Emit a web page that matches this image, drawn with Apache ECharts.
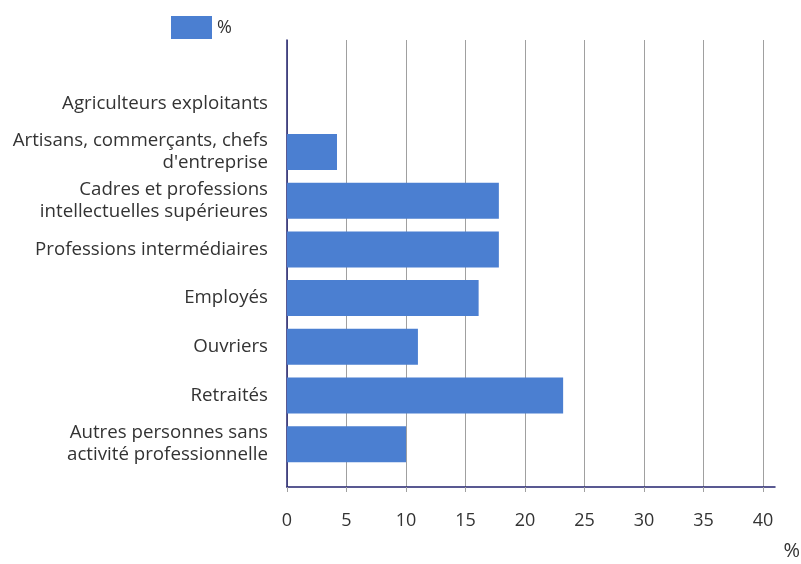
<!DOCTYPE html>
<html>
<head>
<meta charset="utf-8">
<script src="https://cdn.jsdelivr.net/npm/echarts@6/dist/echarts.min.js"></script>
<style>html,body{margin:0;padding:0;background:#fff}#c{width:801px;height:564px}</style>
</head>
<body>
<div id="c"></div>
<script>
const categories = [
  "Agriculteurs exploitants",
  "Artisans, commerçants, chefs\nd'entreprise",
  "Cadres et professions\nintellectuelles supérieures",
  "Professions intermédiaires",
  "Employés",
  "Ouvriers",
  "Retraités",
  "Autres personnes sans\nactivité professionnelle"
];
const values = [0, 4.2, 17.8, 17.8, 16.1, 11.0, 23.2, 10.0];
const xTicks = [0, 5, 10, 15, 20, 25, 30, 35, 40];
const seriesName = "%";
const axisUnit = "%";

const chart = echarts.init(document.getElementById('c'));
const font = "'Open Sans', 'Noto Sans', sans-serif";
chart.setOption({
  animation: false,
  textStyle: { fontFamily: font },
  legend: {
    left: 166, top: 11, itemWidth: 41, itemHeight: 23, itemGap: 10, icon: 'rect',
    textStyle: { fontSize: 18, color: '#333', fontFamily: font },
    data: [seriesName]
  },
  grid: [
    { left: 287, right: 26, top: 79, bottom: 95.5 },
    { left: 287, right: 26, top: 40, bottom: 77 }
  ],
  xAxis: [
    { gridIndex: 0, type: 'value', min: 0, max: 41, show: false },
    {
      gridIndex: 1, type: 'value', min: 0, max: 41, interval: 5,
      axisLine: { show: true, lineStyle: { color: '#23236f', width: 1.5 } },
      axisTick: { show: true, length: 5, lineStyle: { color: '#a0a0a0' }, customValues: xTicks },
      axisLabel: { color: '#333', fontSize: 18, margin: 25, fontFamily: font, customValues: xTicks },
      splitLine: { show: true, lineStyle: { color: '#a0a0a0', width: 1 } }
    }
  ],
  yAxis: [
    {
      gridIndex: 0, type: 'category', data: categories, inverse: true,
      axisLine: { show: false }, axisTick: { show: false },
      axisLabel: { color: '#333', fontSize: 18.7, lineHeight: 22, margin: 19, fontFamily: font }
    },
    {
      gridIndex: 1, type: 'value', min: 0, max: 1,
      axisLine: { show: true, lineStyle: { color: '#23236f', width: 1.5 } },
      axisTick: { show: false }, axisLabel: { show: false }, splitLine: { show: false }
    }
  ],
  graphic: [
    { type: 'text', right: 1, top: 541, style: { text: axisUnit, font: "20px " + font, fill: '#333' } }
  ],
  series: [{
    name: seriesName, type: 'bar', xAxisIndex: 0, yAxisIndex: 0,
    data: values, barCategoryGap: '26%',
    itemStyle: { color: '#4b7fd1' }
  }]
});
</script>
</body>
</html>
